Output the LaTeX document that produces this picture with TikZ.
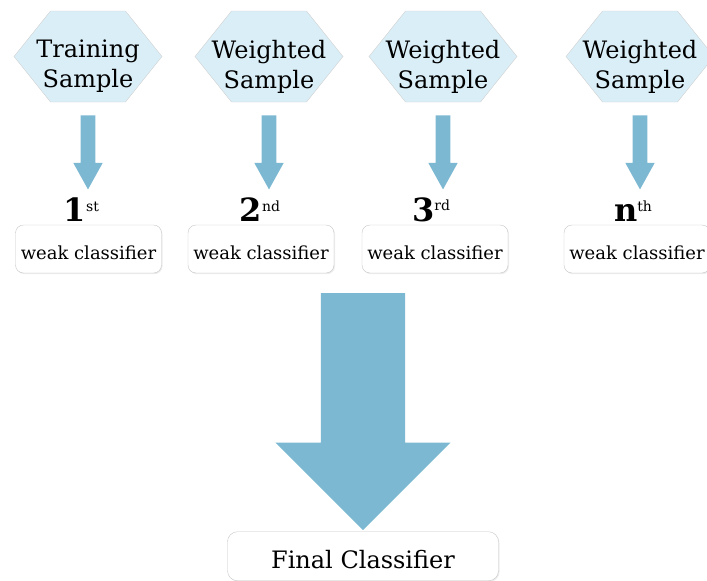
\documentclass[tikz,border=0pt]{standalone}
\usepackage{fontspec}
\setmainfont{DejaVu Serif}
\usepackage{tikz}
\usetikzlibrary{shapes.symbols, shapes.arrows, positioning, shadows}

\definecolor{samplefill}{RGB}{218,238,247}
\definecolor{flowblue}{RGB}{124,184,210}

\tikzstyle{sample} = [signal,
signal to=west and east,
signal pointer angle=102.5,
minimum width=148pt,
minimum height=91pt,
inner sep=0pt,
draw=black!18,
fill=samplefill]
\tikzstyle{sampletext} = [align=center,
yshift=-10pt,
font=\fontsize{24}{30}\selectfont]
\tikzstyle{weak} = [rectangle, rounded corners=8pt,
minimum width=146pt,
minimum height=48pt,
text centered,
text height=21pt, text depth=0pt,
draw=black!22,
fill=white,
drop shadow={shadow xshift=1pt, shadow yshift=-1.2pt, opacity=0.15},
font=\fontsize{18}{20}\selectfont]
\tikzstyle{final} = [rectangle, rounded corners=10pt,
minimum width=271pt,
minimum height=49pt,
text centered,
text height=24pt, text depth=0pt,
draw=black!22,
fill=white,
drop shadow={shadow xshift=1pt, shadow yshift=-1.2pt, opacity=0.15},
font=\fontsize{24}{26}\selectfont]
\tikzstyle{ordinal} = [inner sep=0pt,
font=\fontsize{32}{33}\selectfont\bfseries]
\tikzstyle{smallflow} = [single arrow,
shape border rotate=270,
minimum height=74pt,
minimum width=29pt,
single arrow head extend=7.25pt,
single arrow tip angle=58,
inner sep=7.25pt,
fill=flowblue]
\tikzstyle{bigflow} = [single arrow,
shape border rotate=270,
minimum height=237pt,
minimum width=175pt,
single arrow head extend=45.5pt,
single arrow tip angle=90,
inner sep=42pt,
fill=flowblue]

\newcommand{\ordsup}[1]{\raisebox{10.5pt}{\fontsize{14}{14}\mdseries\selectfont #1}}

\begin{document}
\begin{tikzpicture}[x=1pt, y=-1pt]
\useasboundingbox (0,0) rectangle (707,581);

% samples
\node (s1) [sample, label={[sampletext]center:Training\\Sample}] at (88,56.5) {};
\node (s2) [sample, label={[sampletext]center:Weighted\\Sample}] at (269,56.5) {};
\node (s3) [sample, label={[sampletext]center:Weighted\\Sample}] at (443,56.5) {};
\node (s4) [sample, label={[sampletext]center:Weighted\\Sample}] at (640,56.5) {};

\node (a1) [smallflow, below=13pt of s1] {};
\node (a2) [smallflow, below=13pt of s2] {};
\node (a3) [smallflow, below=13pt of s3] {};
\node (a4) [smallflow, below=13pt of s4] {};

% weak classifiers
\node (c1) [weak] at (88.5,249) {weak classifier};
\node (c2) [weak] at (261,249) {weak classifier};
\node (c3) [weak] at (435,249) {weak classifier};
\node (c4) [weak] at (637,249) {weak classifier};

\node (o1) [ordinal, above=3pt of c1, xshift=-7pt] {1\ordsup{st}};
\node (o2) [ordinal, above=3pt of c2, xshift=-1pt] {2\ordsup{nd}};
\node (o3) [ordinal, above=3pt of c3, xshift=-4pt] {3\ordsup{rd}};
\node (o4) [ordinal, above=3pt of c4, xshift=-4pt] {n\ordsup{th}};

% final
\node (merge) [bigflow, anchor=north] at (363,293) {};
\node (fin) [final, below=1pt of merge] {Final Classifier};

\end{tikzpicture}
\end{document}
